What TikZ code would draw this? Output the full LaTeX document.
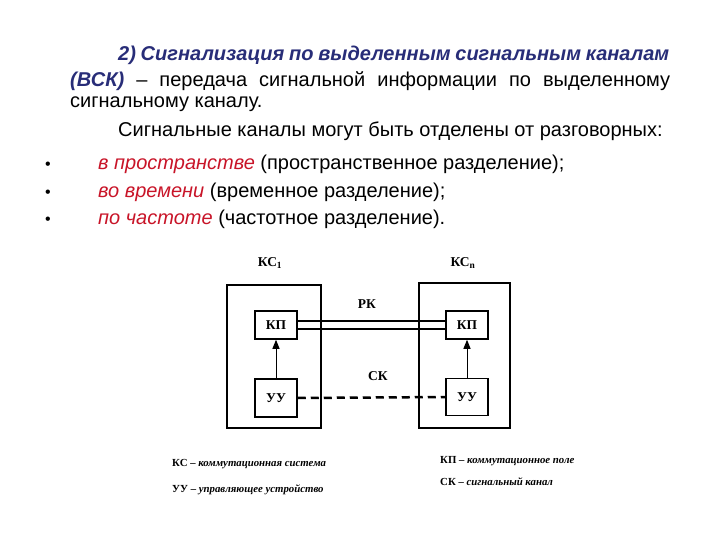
\documentclass[tikz,border=0pt]{standalone}
\usepackage{fontspec}
\setmainfont{Liberation Sans}
\newfontfamily\tms{Liberation Serif}
\usetikzlibrary{arrows.meta}
\definecolor{navy}{RGB}{40,45,120}
\definecolor{redtxt}{RGB}{200,20,40}
\tikzset{
  txt/.style={anchor=base west, inner sep=0pt, font=\fontsize{20}{24}\selectfont},
  bul/.style={anchor=base, inner sep=0pt, font=\fontsize{16}{18}\selectfont},
  outerbox/.style={draw, line width=1.5pt},
  innerbox/.style={draw, line width=1.5pt, minimum width=42pt, minimum height=28pt, inner sep=0pt, font=\tms\bfseries\fontsize{13.5}{15}\selectfont},
  lab/.style={inner sep=0pt, font=\tms\bfseries\fontsize{13.5}{15}\selectfont},
  leg/.style={anchor=base west, inner sep=0pt, font=\tms\bfseries\itshape\fontsize{10.8}{12}\selectfont},
  up/.style={-{Triangle[length=9pt,width=7pt]}, line width=1pt},
}
\begin{document}
\begin{tikzpicture}[x=1pt,y=-1pt]
\useasboundingbox (0,0) rectangle (720,540);
% text
\node[txt] (l1) at (118,61) {\makebox[551pt][s]{\color{navy}\bfseries\itshape 2) Сигнализация по выделенным сигнальным каналам}};
\node[txt] (l2) at (70,87) {\makebox[600pt][s]{{\color{navy}\bfseries\itshape (ВСК)} – передача сигнальной информации по выделенному}};
\node[txt] (l3) at (70,108) {сигнальному каналу.};
\node[txt] (l4) at (118,137) {Сигнальные каналы могут быть отделены от разговорных:};
\node[bul] (b1) at (48,170) {•};
\node[bul] (b2) at (48,197) {•};
\node[bul] (b3) at (48,225) {•};
\node[txt] (l5) at (98,170) {{\color{redtxt}\itshape в пространстве} (пространственное разделение);};
\node[txt] (l6) at (98,197) {{\color{redtxt}\itshape во времени} (временное разделение);};
\node[txt] (l7) at (98,225) {{\color{redtxt}\itshape по частоте} (частотное разделение).};
% diagram
\draw[outerbox] (227,285) rectangle (321,428);
\draw[outerbox] (419,283) rectangle (510,428);
\node[lab] (ks1) at (270,263) {КС\textsubscript{1}};
\node[lab] (ksn) at (463,263) {КС\textsubscript{n}};
\node[innerbox] (kp1) at (276,325) {КП};
\node[innerbox] (kp2) at (467,325) {КП};
\node[innerbox, minimum height=38pt] (uu1) at (276,398) {УУ};
\node[innerbox, minimum height=37pt] (uu2) at (467,397) {УУ};
\draw[up] (uu1.north) -- (kp1.south);
\draw[up] (uu2.north) -- (kp2.south);
\draw[line width=2.5pt] ([yshift=-4pt]kp1.east) -- ([yshift=-4pt]kp2.west);
\draw[line width=2.5pt] ([yshift=4pt]kp1.east) -- ([yshift=4pt]kp2.west);
\node[lab] (rk) at (367,304) {РК};
\node[lab] (sk) at (378,376) {СК};
\draw[line width=2.5pt, dash pattern=on 8pt off 5pt] (uu1.east) -- (uu2.west);
% legend
\node[leg] (g1) at (172,466) {{\upshape КС} – коммутационная система};
\node[leg] (g2) at (172,492) {{\upshape УУ} – управляющее устройство};
\node[leg] (g3) at (440,463) {{\upshape КП} – коммутационное поле};
\node[leg] (g4) at (440,485) {{\upshape СК} – сигнальный канал};
\end{tikzpicture}
\end{document}
